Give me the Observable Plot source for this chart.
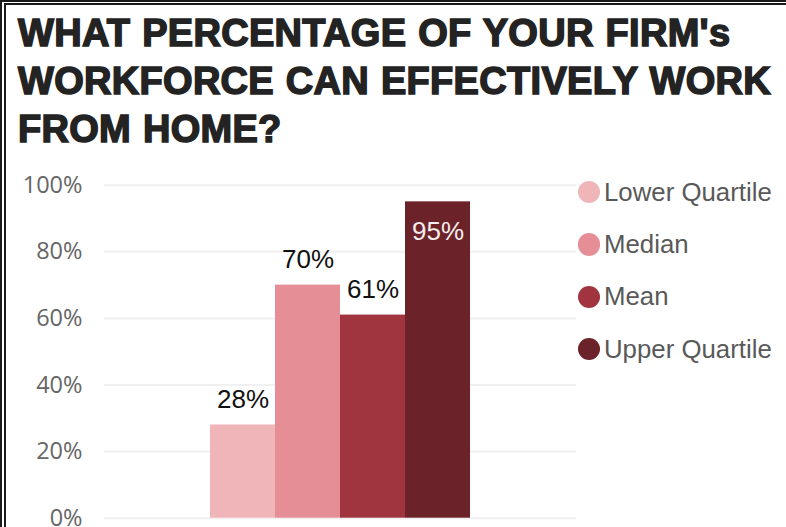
<!DOCTYPE html>
<html>
<head>
<meta charset="utf-8">
<script src="https://cdn.jsdelivr.net/npm/d3@7"></script>
<script src="https://cdn.jsdelivr.net/npm/@observablehq/plot@0.6"></script>
<style>
  html, body { margin: 0; padding: 0; background: #fff; }
  body { width: 786px; height: 527px; overflow: hidden; position: relative; }
  #frame { position: absolute; left: 0; top: 0; width: 800px; height: 540px;
    border-top: 5px double #1a1a1a; border-left: 6px double #1a1a1a; box-sizing: border-box; }
  #title { position: absolute; left: 18px; top: 8.6px; margin: 0;
    font-family: "Liberation Sans", Arial, sans-serif; font-weight: 700; font-size: 38px;
    line-height: 48px; color: #232323; -webkit-text-stroke: 1.5px #232323; letter-spacing: 0.3px; word-spacing: 1px; white-space: nowrap; }
  #chart { position: absolute; left: 0; top: 150px; }
  #legend { position: absolute; left: 0; top: 0; }
  .row { position: absolute; left: 578px; height: 30px; display: flex; align-items: center;
    font-family: "Liberation Sans", Arial, sans-serif; font-size: 25.8px; color: #595959; white-space: nowrap; }
  .dot { width: 22.4px; height: 22.4px; border-radius: 50%; margin-right: 3.6px; flex: none; }
</style>
</head>
<body>
<div id="frame"></div>
<div id="title">WHAT PERCENTAGE OF YOUR FIRM's<br>WORKFORCE CAN EFFECTIVELY WORK<br>FROM HOME?</div>
<div id="chart"></div>
<div id="legend"></div>
<script>
const categories = ["Lower Quartile", "Median", "Mean", "Upper Quartile"];
const values = [28, 70, 61, 95];
const colors = ["#efb5b9", "#e68e96", "#a0343f", "#6b2228"];
const yTicks = [0, 20, 40, 60, 80, 100];

const data = categories.map((c, i) => ({cat: c, value: values[i]}));

const plot = Plot.plot({
  width: 786,
  height: 377,
  marginTop: 34.7,
  marginBottom: 9.3,
  marginLeft: 104,
  marginRight: 210,
  x: {domain: categories, paddingInner: 0, paddingOuter: 1.58, axis: null},
  y: {domain: [0, 100], label: null},
  color: {domain: categories, range: colors},
  marks: [
    Plot.gridY(yTicks, {stroke: "#f0f0f0", strokeOpacity: 1, strokeWidth: 2}),
    Plot.axisY(yTicks, {tickSize: 0, tickPadding: 22, tickFormat: d => d + "%", label: null,
      fontSize: 23.5, fill: "#666", fontFamily: "'Open Sans', sans-serif"}),
    Plot.barY(data, {x: "cat", y: "value", fill: "cat"}),
    Plot.text(data.filter(d => d.value < 90), {x: "cat", y: "value", text: d => d.value + "%",
      dy: -25.3, fontSize: 26, fill: "#111", fontFamily: "'Liberation Sans', Arial, sans-serif"}),
    Plot.text(data.filter(d => d.value >= 90), {x: "cat", y: "value", text: d => d.value + "%",
      dy: 29.7, fontSize: 26, fill: "#f6eded", fontFamily: "'Liberation Sans', Arial, sans-serif"})
  ]
});
plot.style.overflow = "visible";
document.getElementById("chart").appendChild(plot);

const legend = document.getElementById("legend");
const rowCenters = [192.3, 244.6, 296.8, 349];
categories.forEach((c, i) => {
  const row = document.createElement("div");
  row.className = "row";
  row.style.top = (rowCenters[i] - 15) + "px";
  const dot = document.createElement("span");
  dot.className = "dot";
  dot.style.background = plot.scale("color").apply(c);
  const label = document.createElement("span");
  label.textContent = c;
  row.appendChild(dot);
  row.appendChild(label);
  legend.appendChild(row);
});
</script>
</body>
</html>
